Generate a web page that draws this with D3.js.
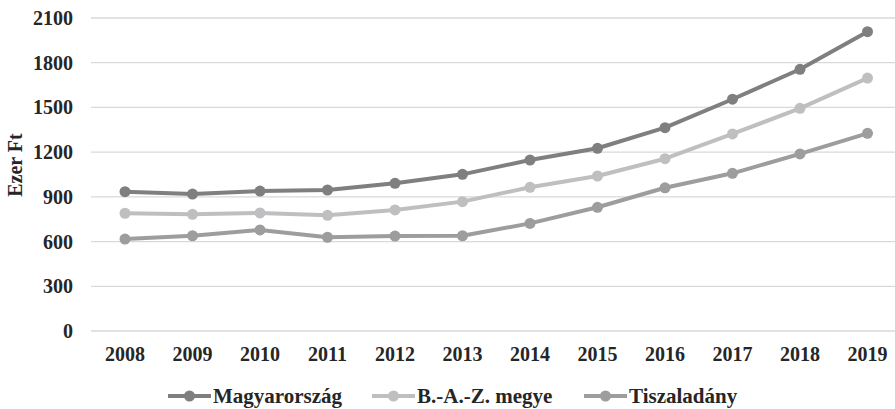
<!DOCTYPE html>
<html>
<head>
<meta charset="utf-8">
<script src="https://cdn.jsdelivr.net/npm/d3@7"></script>
<style>
  body { margin: 0; background: #fff; }
</style>
</head>
<body>
<script>
const width = 895;
const height = 409;

// Data
const years = ["2008", "2009", "2010", "2011", "2012", "2013", "2014", "2015", "2016", "2017", "2018", "2019"];
const magyarorszag = [935, 919, 939, 946, 991, 1051, 1147, 1226, 1364, 1555, 1756, 2008];
const baz = [790, 783, 792, 776, 812, 868, 964, 1040, 1156, 1322, 1494, 1697];
const tiszaladany = [617, 639, 678, 629, 637, 639, 722, 830, 961, 1058, 1188, 1326];
const yTicks = [0, 300, 600, 900, 1200, 1500, 1800, 2100];

const series = [
  { name: "Magyarország", values: magyarorszag, color: "#7f7f80" },
  { name: "B.-A.-Z. megye", values: baz, color: "#bfbfc1" },
  { name: "Tiszaladány", values: tiszaladany, color: "#9d9d9f" }
];

const svg = d3.select("body").append("svg")
  .attr("width", width)
  .attr("height", height)
  .attr("font-family", "'Liberation Serif', 'Times New Roman', Tinos, 'DejaVu Serif', serif")
  .attr("font-weight", "bold")
  .attr("fill", "#262626");

// Scales
const x = d3.scalePoint()
  .domain(years)
  .range([125, 867.5]);

const y = d3.scaleLinear()
  .domain([0, 2100])
  .range([331, 18]);

// Gridlines
svg.append("g")
  .selectAll("line")
  .data(yTicks)
  .enter()
  .append("line")
  .attr("x1", 91)
  .attr("x2", 895)
  .attr("y1", d => y(d))
  .attr("y2", d => y(d))
  .attr("stroke", "#d9d9d9")
  .attr("stroke-width", 1.3);

// Y axis labels
svg.append("g")
  .selectAll("text")
  .data(yTicks)
  .enter()
  .append("text")
  .attr("x", 73)
  .attr("y", d => y(d))
  .attr("dy", "0.35em")
  .attr("text-anchor", "end")
  .style("font-size", "20px")
  .text(d => d);

// X axis labels
svg.append("g")
  .selectAll("text")
  .data(years)
  .enter()
  .append("text")
  .attr("x", d => x(d))
  .attr("y", 361)
  .attr("text-anchor", "middle")
  .style("font-size", "20px")
  .text(d => d);

// Y axis title
svg.append("text")
  .attr("transform", "translate(22,165) rotate(-90)")
  .attr("text-anchor", "middle")
  .style("font-size", "20px")
  .text("Ezer Ft");

// Lines and markers
const line = d3.line()
  .x((d, i) => x(years[i]))
  .y(d => y(d));

series.forEach(s => {
  svg.append("path")
    .datum(s.values)
    .attr("fill", "none")
    .attr("stroke", s.color)
    .attr("stroke-width", 4)
    .attr("stroke-linejoin", "round")
    .attr("d", line);

  svg.append("g")
    .selectAll("circle")
    .data(s.values)
    .enter()
    .append("circle")
    .attr("cx", (d, i) => x(years[i]))
    .attr("cy", d => y(d))
    .attr("r", 5.5)
    .attr("fill", s.color);
});

// Legend
const legendX = [168, 372, 584];
const legend = svg.append("g")
  .selectAll("g")
  .data(series)
  .enter()
  .append("g")
  .attr("transform", (d, i) => `translate(${legendX[i]},396)`);

legend.append("line")
  .attr("x1", 0)
  .attr("x2", 43)
  .attr("stroke", d => d.color)
  .attr("stroke-width", 4);

legend.append("circle")
  .attr("cx", 21.5)
  .attr("r", 5.5)
  .attr("fill", d => d.color);

legend.append("text")
  .attr("x", 45)
  .attr("dy", "0.35em")
  .style("font-size", "21px")
  .text(d => d.name);
</script>
</body>
</html>
